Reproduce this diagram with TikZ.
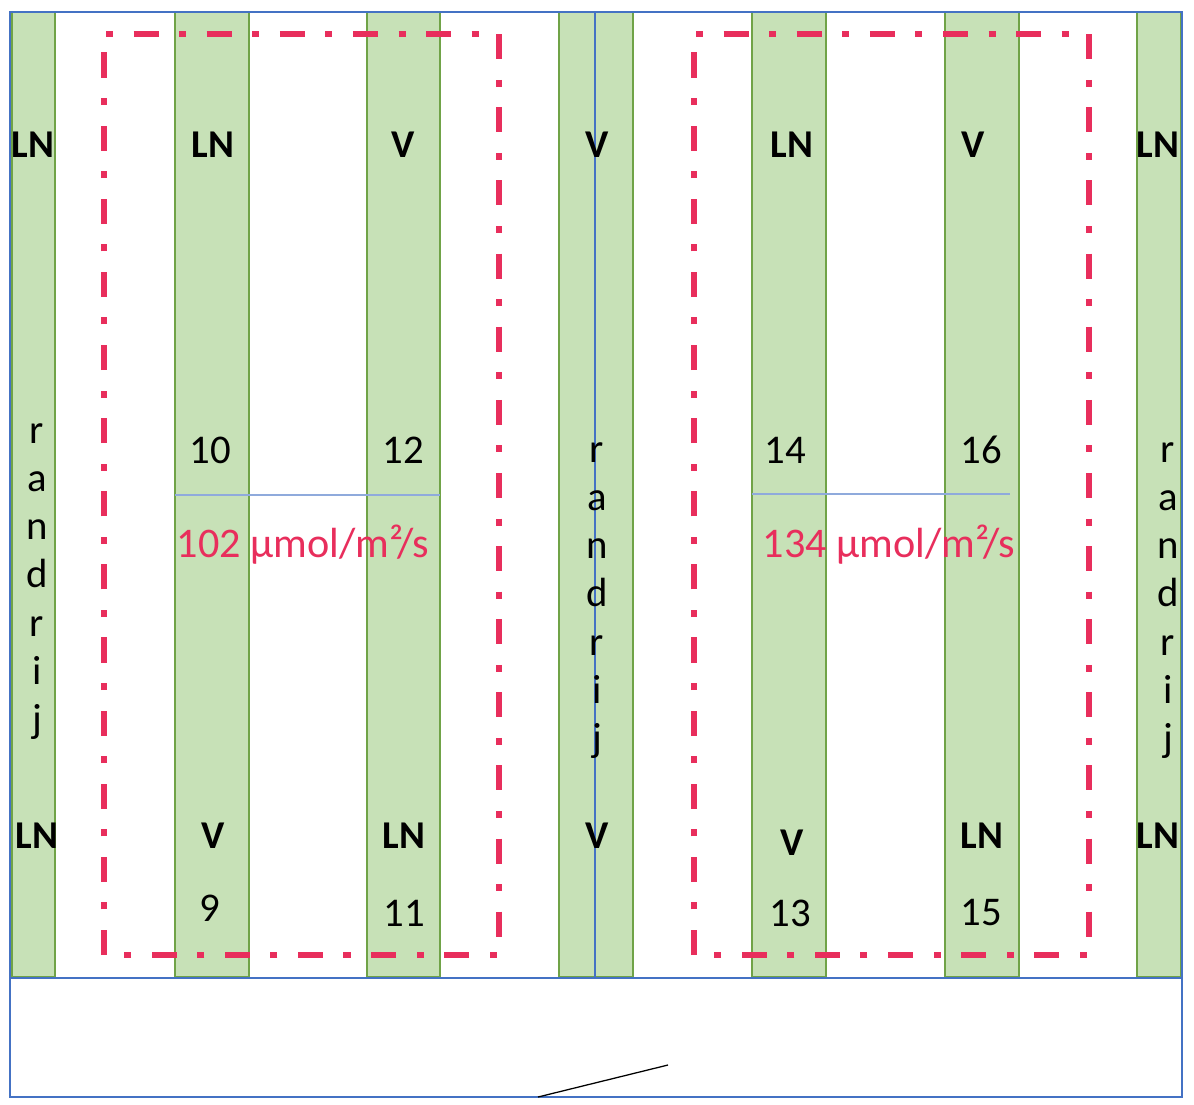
\documentclass[tikz,border=0pt]{standalone}
\usepackage{fontspec}
\setmainfont{Carlito}
\definecolor{stripfill}{RGB}{199,225,183}
\definecolor{stripline}{RGB}{112,163,71}
\definecolor{frameblue}{RGB}{68,114,196}
\definecolor{thinblue}{RGB}{143,170,220}
\definecolor{zonered}{RGB}{232,46,92}
\tikzset{
    strip/.style={fill=stripfill, draw=stripline, line width=0.9pt},
    zone/.style={draw=zonered, line width=3.8pt,
        dash pattern=on 17.8pt off 14.6pt on 5pt off 14.6pt},
    tag/.style={font=\fontsize{28}{32}\selectfont\bfseries, inner sep=0pt},
    num/.style={font=\fontsize{29}{34}\selectfont, inner sep=0pt},
    flux/.style={num, font=\fontsize{30}{34}\selectfont, text=zonered},
    edge/.style={anchor=base, num},
}
\begin{document}
\begin{tikzpicture}[x=0.025cm, y=-0.025cm]
        \useasboundingbox (0,0) rectangle (1194,1104);
        % green strips
        \foreach \a/\b in {12/55,175/249,367/440,559/633,752/826,945/1019,1137/1181} {
            \draw[strip] (\a,12) rectangle (\b,977);
        }
        % measuring zones
        \draw[zone] (104,955) -- (104,34) -- (499,34) -- (499,955) -- cycle;
        \draw[zone] (694,955) -- (694,34) -- (1089,34) -- (1089,955) -- cycle;
        \draw[thinblue, line width=1.5pt] (175,495) -- (440,495);
        \draw[thinblue, line width=1.5pt] (752,494) -- (1010,494);
        % frame
        \draw[frameblue, line width=1.5pt] (10,12) rectangle (1182,1097);
        \draw[frameblue, line width=1.5pt] (10,978) -- (1182,978);
        \draw[frameblue, line width=1.8pt] (595,12) -- (595,978);
        \coordinate (door1) at (538,1097);
        \coordinate (door2) at (668,1065);
        \draw[black, line width=0.9pt] (door1) -- (door2);
        % labels
        \foreach \x/\t [count=\i] in {33/LN,213/LN,403/V,597/V,792/LN,973/V,1158/LN} {
            \node[tag] (top\i) at (\x,145) {\t};
        }
        \foreach \x/\y/\t [count=\i] in {37/836/LN,213/836/V,404/836/LN,597/836/V,792/843/V,982/836/LN,1158/836/LN} {
            \node[tag] (bot\i) at (\x,\y) {\t};
        }
        \foreach \x/\y/\t in {210/450/10,403/450/12,785/450/14,981/450/16,210/908/9,404/913/11,790/913/13,981/913/15} {
            \node[num] (plot\t) at (\x,\y) {\t};
        }
        \node[flux] (fluxa) at (303,545) {102 µmol/m²/s};
        \node[flux] (fluxb) at (889,545) {134 µmol/m²/s};
        % edge rows
        \foreach \x/\y [count=\k] in {37/443,597/462,1168/462} {
            \foreach \c [count=\j] in {r,a,n,d,r,i,j} {
                \node[edge] (rij\k\j) at (\x,\y+48.3*\j-48.3) {\c};
            }
        }
    \end{tikzpicture}
\end{document}
